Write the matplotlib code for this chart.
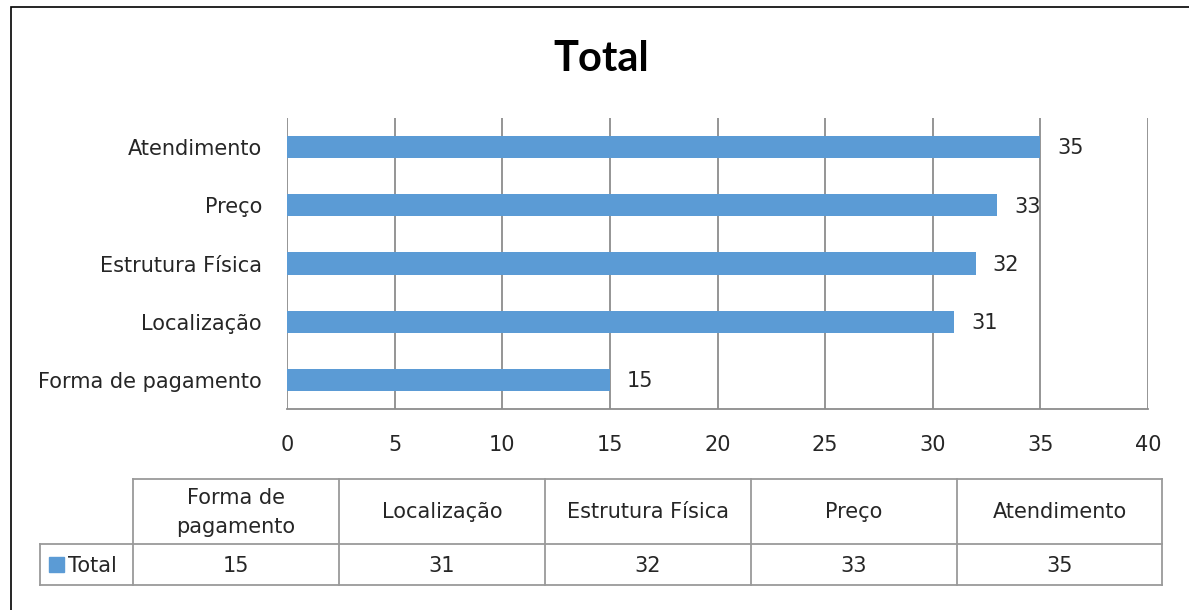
import matplotlib
matplotlib.use("Agg")
import matplotlib.pyplot as plt
from matplotlib.lines import Line2D
from matplotlib.patches import Rectangle

categories = ["Forma de pagamento", "Localização", "Estrutura Física", "Preço", "Atendimento"]
table_headers = ["Forma de\npagamento", "Localização", "Estrutura Física", "Preço", "Atendimento"]
values = [15, 31, 32, 33, 35]
series_name = "Total"
x_ticks = [0, 5, 10, 15, 20, 25, 30, 35, 40]

BAR = "#5B9BD5"
GRID = "#8C8C8C"
TEXT = "#262626"
FONT = "DejaVu Sans"
FS = 15

W, H = 1189, 610
plt.rcParams["font.family"] = [FONT]
fig = plt.figure(figsize=(W / 100, H / 100), dpi=100)


def fx(px):
    return px / W


def fy(py):
    return 1 - py / H


# outer chart frame
fig.add_artist(Rectangle((fx(11), fy(1000)), fx(1400), fy(7) - fy(1000),
                         transform=fig.transFigure, fill=False,
                         edgecolor="#000000", linewidth=1.2))

fig.text(fx(601), fy(59), series_name, ha="center", va="center",
         fontsize=30, fontweight="bold", color="#000000", family=["Lato", "DejaVu Sans"])

ax = fig.add_axes([fx(287), fy(409), fx(1148) - fx(287), fy(118) - fy(409)])
ypos = list(range(len(categories)))
ax.barh(ypos, values, height=0.38, color=BAR, zorder=3)
ax.set_xlim(0, 40)
ax.set_ylim(-0.5, len(categories) - 0.5)
ax.set_xticks(x_ticks)
ax.set_xticklabels([str(t) for t in x_ticks])
ax.set_yticks(ypos)
ax.set_yticklabels(categories)
ax.tick_params(axis="both", length=0, labelsize=FS, colors=TEXT)
ax.tick_params(axis="x", pad=19)
ax.tick_params(axis="y", pad=18)
ax.grid(axis="x", color=GRID, linewidth=1.3, zorder=0)
for s in ["top", "right", "left"]:
    ax.spines[s].set_visible(False)
ax.spines["bottom"].set_color(GRID)
ax.spines["bottom"].set_linewidth(1.3)
for y, v in zip(ypos, values):
    ax.annotate(str(v), (v, y), xytext=(12, -1), textcoords="offset points",
                ha="left", va="center", fontsize=FS, color=TEXT)

# data table below the axis
col_x = [133, 339, 545, 751, 957, 1162]
row_y = [479, 544, 585]
LC = "#9A9A9A"
lw = 1.3


def hline(y, x0, x1):
    fig.add_artist(Line2D([fx(x0), fx(x1)], [fy(y), fy(y)], transform=fig.transFigure,
                          color=LC, linewidth=lw))


def vline(x, y0, y1):
    fig.add_artist(Line2D([fx(x), fx(x)], [fy(y0), fy(y1)], transform=fig.transFigure,
                          color=LC, linewidth=lw))


hline(row_y[0], col_x[0], col_x[-1])
hline(row_y[1], 40, col_x[-1])
hline(row_y[2], 40, col_x[-1])
vline(40, row_y[1], row_y[2])
for x in col_x:
    vline(x, row_y[0], row_y[2])

for i, (hdr, v) in enumerate(zip(table_headers, values)):
    cx = (col_x[i] + col_x[i + 1]) / 2
    fig.text(fx(cx), fy((row_y[0] + row_y[1]) / 2 + 1), hdr, ha="center", va="center",
             fontsize=FS, color=TEXT, linespacing=1.55)
    fig.text(fx(cx), fy((row_y[1] + row_y[2]) / 2 + 2), str(v), ha="center", va="center",
             fontsize=FS, color=TEXT)

fig.add_artist(Rectangle((fx(49), fy(572)), fx(15), fy(557) - fy(572),
                         transform=fig.transFigure, color=BAR))
fig.text(fx(68), fy(566), series_name, ha="left", va="center", fontsize=FS, color=TEXT)

fig.savefig("out.png", dpi=100)
